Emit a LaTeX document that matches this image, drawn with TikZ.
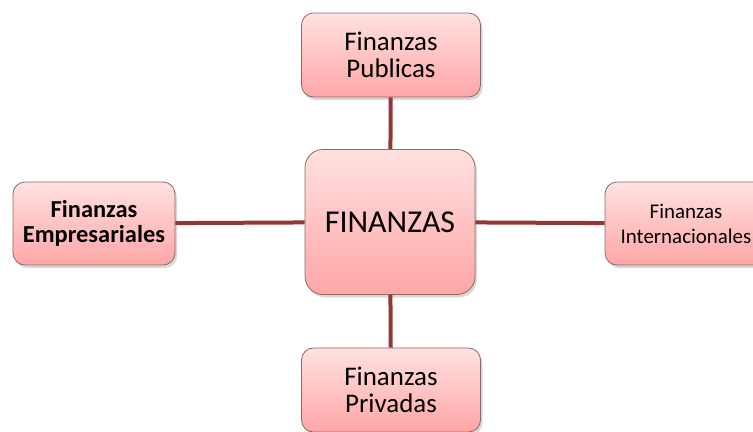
\documentclass[tikz,border=0pt]{standalone}
\usepackage{fontspec}
\setmainfont{Carlito}
\usepackage{tikz}
\usetikzlibrary{shadows}
\usepackage{xcolor}
\definecolor{linkred}{RGB}{148,54,52}
\definecolor{boxtop}{RGB}{255,225,225}
\definecolor{boxbot}{RGB}{255,166,166}
\definecolor{boxedge}{RGB}{140,105,105}

\begin{document}
\begin{tikzpicture}[x=1bp, y=-1bp,
  fbox/.style={draw=boxedge, line width=0.8bp, top color=boxtop, bottom color=boxbot,
    rounded corners=12bp, align=center, inner sep=0pt,
    minimum width=179bp, minimum height=84bp,
    drop shadow={opacity=0.3, shadow xshift=2bp, shadow yshift=-3bp}},
  link/.style={draw=linkred, line width=4bp}]
% 财务分类图
\useasboundingbox (0,0) rectangle (753,431);
\clip (0,0) rectangle (753,431);
\node[fbox, minimum width=170bp, minimum height=145bp, rounded corners=18bp,
  font=\fontsize{32}{36}\selectfont] (fin) at (390,222) {FINANZAS};
\node[fbox, font=\fontsize{27}{27}\selectfont] (pub) at (391,55) {Finanzas\\Publicas};
\node[fbox, font=\fontsize{27}{27}\selectfont] (priv) at (391,390) {Finanzas\\Privadas};
\node[fbox, minimum width=162bp, minimum height=83bp, font=\fontsize{24.5}{25}\bfseries\selectfont] (emp) at (94,223.5) {Finanzas\\Empresariales};
\node[fbox, minimum width=162bp, minimum height=83bp, font=\fontsize{21}{25}\selectfont] (int) at (686,223.5) {Finanzas\\Internacionales};
\draw[link] (fin) -- (pub);
\draw[link] (fin) -- (priv);
\draw[link] (fin) -- (emp);
\draw[link] (fin) -- (int);
\end{tikzpicture}
\end{document}
